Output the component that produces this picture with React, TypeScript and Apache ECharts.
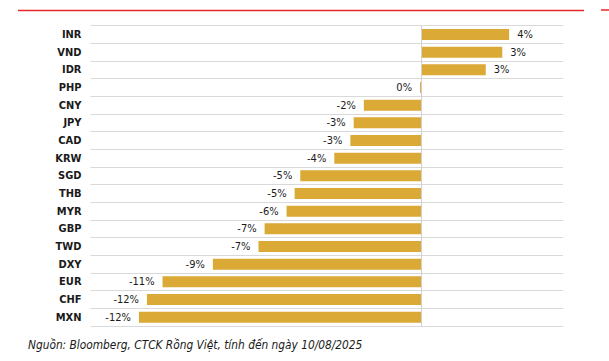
import React, { useEffect, useRef } from "react";
import * as echarts from "echarts";

const categories = ["INR", "VND", "IDR", "PHP", "CNY", "JPY", "CAD", "KRW", "SGD", "THB", "MYR", "GBP", "TWD", "DXY", "EUR", "CHF", "MXN"];
const values = [3.72, 3.43, 2.73, -0.05, -2.43, -2.86, -3.0, -3.68, -5.12, -5.36, -5.7, -6.63, -6.89, -8.82, -10.95, -11.61, -11.95];
const sourceText = "Nguồn: Bloomberg, CTCK Rồng Việt, tính đến ngày 10/08/2025";

const FONT = "'Liberation Sans Narrow', 'DejaVu Sans Condensed', 'Liberation Sans', sans-serif";

export default function App() {
  const ref = useRef<HTMLDivElement>(null);
  useEffect(() => {
    document.body.style.margin = "0";
    const chart = echarts.init(ref.current!, null, { renderer: "svg" });
    chart.setOption({
      animation: false,
      backgroundColor: "#ffffff",
      grid: { left: 90.5, right: 46, top: 25.7, bottom: 35, containLabel: false },
      xAxis: { type: "value", min: -14, max: 6, show: false },
      yAxis: {
        type: "category",
        data: categories,
        inverse: true,
        axisLine: { show: false },
        axisTick: { show: false },
        splitLine: { show: true, lineStyle: { color: "#d9d9d9", width: 1 } },
        axisLabel: { color: "#1a1a1a", fontWeight: "bold", fontSize: 11, fontFamily: FONT, margin: 9 },
      },
      series: [
        {
          type: "bar",
          barWidth: 11,
          itemStyle: { color: "#DBA935" },
          data: values.map((v) => ({
            value: v,
            label: { position: v >= 0 ? "right" : "left" },
          })),
          label: {
            show: true,
            distance: 8,
            color: "#1a1a1a",
            fontSize: 11,
            fontFamily: FONT,
            formatter: (p: any) => `${Math.round(p.value)}%`,
          },
          markLine: {
            silent: true,
            symbol: "none",
            label: { show: false },
            lineStyle: { color: "#d0d0d0", type: "solid", width: 1 },
            data: [{ xAxis: 0 }],
          },
        },
      ],
      graphic: [
        { type: "line", shape: { x1: 18, y1: 10.5, x2: 584, y2: 10.5 }, style: { stroke: "#e8262b", lineWidth: 1.5 } },
        { type: "line", shape: { x1: 601, y1: 10, x2: 609, y2: 10 }, style: { stroke: "#e8262b", lineWidth: 1.5 } },
        {
          type: "text",
          left: 28,
          top: 339,
          style: { text: sourceText, fill: "#1a1a1a", fontSize: 11.8, fontStyle: "italic", fontFamily: FONT },
        },
      ],
    });
    return () => chart.dispose();
  }, []);
  return <div ref={ref} style={{ width: 609, height: 361 }} />;
}
